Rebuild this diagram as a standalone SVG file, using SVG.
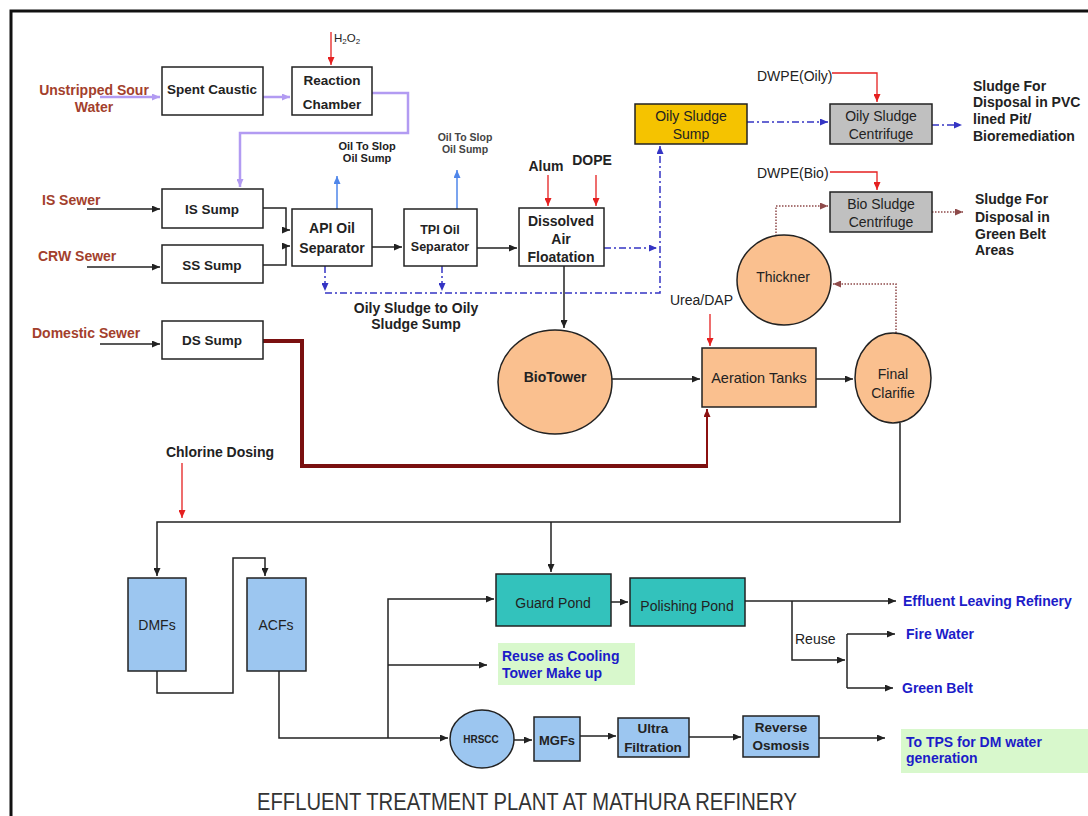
<svg xmlns="http://www.w3.org/2000/svg" width="1088" height="816" viewBox="0 0 1088 816">
  <defs>
    <style>
      .box { stroke: #222; stroke-width: 1.5; }
      .plain { fill: #fff; }
      .peach { fill: #FAC08F; }
      .gold { fill: #F5C300; }
      .grey { fill: #C0C0C0; }
      .sky { fill: #9CC6F0; }
      .teal { fill: #33C2BC; }
      .mint { fill: #D8F8CC; stroke: none; }
      text { font-family: "Liberation Sans", Arial, sans-serif; fill: #222; dominant-baseline: central; font-size: 14px; }
      .c { text-anchor: middle; }
      .b { font-weight: bold; }
      .s8 { font-size: 8px; }
      .s10 { font-size: 10px; }
      .s105 { font-size: 10.5px; }
      .s11 { font-size: 11px; }
      .s115 { font-size: 11.5px; }
      .s125 { font-size: 12.5px; }
      .s13 { font-size: 13px; }
      .s135 { font-size: 13.5px; }
      .s145 { font-size: 14.5px; }
      .title { font-size: 23px; fill: #333; }
      .grey-t { fill: #444; }
      .src { fill: #A3402C; font-weight: bold; }
      .out { fill: #1C1CC8; font-weight: bold; }
      .k { stroke: #222; stroke-width: 1.5; fill: none; }
      .r { stroke: #E52020; stroke-width: 1.3; fill: none; }
      .lav { stroke: #B29BF2; stroke-width: 2.5; fill: none; }
      .sb { stroke: #4F86EA; stroke-width: 1.5; fill: none; }
      .dd { stroke: #3434C4; stroke-width: 1.5; fill: none; stroke-dasharray: 7 3 2 3; }
      .dot { stroke: #8E4A4A; stroke-width: 1.5; fill: none; stroke-dasharray: 1.5 1.5; }
      .mar { stroke: #7A1010; stroke-width: 4; fill: none; }
      .mar2 { stroke: #8B1010; stroke-width: 2; fill: none; }
    </style>
    <marker id="ak" markerUnits="userSpaceOnUse" markerWidth="8" markerHeight="7" refX="8" refY="3.5" orient="auto"><path d="M0,0 L8,3.5 L0,7 z" fill="#222"/></marker>
    <marker id="ar" markerUnits="userSpaceOnUse" markerWidth="8" markerHeight="7" refX="8" refY="3.5" orient="auto"><path d="M0,0 L8,3.5 L0,7 z" fill="#E52020"/></marker>
    <marker id="al" markerUnits="userSpaceOnUse" markerWidth="8" markerHeight="7" refX="8" refY="3.5" orient="auto"><path d="M0,0 L8,3.5 L0,7 z" fill="#B29BF2"/></marker>
    <marker id="ab" markerUnits="userSpaceOnUse" markerWidth="8" markerHeight="7" refX="8" refY="3.5" orient="auto"><path d="M0,0 L8,3.5 L0,7 z" fill="#4F86EA"/></marker>
    <marker id="ad" markerUnits="userSpaceOnUse" markerWidth="8" markerHeight="7" refX="8" refY="3.5" orient="auto"><path d="M0,0 L8,3.5 L0,7 z" fill="#3434C4"/></marker>
    <marker id="am" markerUnits="userSpaceOnUse" markerWidth="8" markerHeight="7" refX="8" refY="3.5" orient="auto"><path d="M0,0 L8,3.5 L0,7 z" fill="#8E4A4A"/></marker>
    <marker id="ax" markerUnits="userSpaceOnUse" markerWidth="8" markerHeight="7" refX="8" refY="3.5" orient="auto"><path d="M0,0 L8,3.5 L0,7 z" fill="#8B1010"/></marker>
  </defs>

  <rect width="1088" height="816" fill="#fff"/>
  <!-- outer frame (runs off the right and bottom edges) -->
  <path d="M11,830 V11 H1100" fill="none" stroke="#111" stroke-width="3"/>

  <!-- green output panels -->
  <rect class="mint" x="498" y="643" width="137" height="42"/>
  <rect class="mint" x="901" y="729" width="190" height="44"/>

  <g id="connectors">
    <!-- spent caustic line -->
    <path class="lav" d="M100,97 H160" marker-end="url(#al)"/>
    <path class="lav" d="M263,97 H290" marker-end="url(#al)"/>
    <path class="lav" d="M372,93 H408 V133 H240 V187" marker-end="url(#al)"/>
    <path class="r" d="M331,32 V65" marker-end="url(#ar)"/>
    <!-- sewers -->
    <path class="k" d="M87,209 H160" marker-end="url(#ak)"/>
    <path class="k" d="M87,267 H160" marker-end="url(#ak)"/>
    <path class="k" d="M263,208 H286 V230 H290" marker-end="url(#ak)"/>
    <path class="k" d="M263,265 H286 V246 H290" marker-end="url(#ak)"/>
    <path class="k" d="M372,247 H402" marker-end="url(#ak)"/>
    <path class="k" d="M477,248 H517" marker-end="url(#ak)"/>
    <!-- oil to slop -->
    <path class="sb" d="M337,209 V176" marker-end="url(#ab)"/>
    <path class="sb" d="M457,209 V170" marker-end="url(#ab)"/>
    <!-- chemicals -->
    <path class="r" d="M548,175 V206" marker-end="url(#ar)"/>
    <path class="r" d="M596,175 V206" marker-end="url(#ar)"/>
    <!-- oily sludge routing -->
    <path class="dd" d="M325,266 V291" marker-end="url(#ad)"/>
    <path class="dd" d="M442,266 V291" marker-end="url(#ad)"/>
    <path class="dd" d="M325,293 H660 V146" marker-end="url(#ad)"/>
    <path class="dd" d="M604,248 H657" marker-end="url(#ad)"/>
    <path class="dd" d="M747,122 H828" marker-end="url(#ad)"/>
    <path class="dd" d="M932,125 H962" marker-end="url(#ad)"/>
    <path class="r" d="M832,73 H877 V102" marker-end="url(#ar)"/>
    <path class="r" d="M830,172 H877 V190" marker-end="url(#ar)"/>
    <!-- bio sludge -->
    <path class="dot" d="M776,236 V206 H828" marker-end="url(#am)"/>
    <path class="dot" d="M932,212 H963" marker-end="url(#am)"/>
    <path class="dot" d="M896,333 V284 H833" marker-end="url(#am)"/>
    <!-- biological treatment -->
    <path class="k" d="M564,266 V328" marker-end="url(#ak)"/>
    <path class="k" d="M612,379 H700" marker-end="url(#ak)"/>
    <path class="k" d="M816,379 H853" marker-end="url(#ak)" stroke-width="1"/>
    <path class="r" d="M710,314 V346" marker-end="url(#ar)"/>
    <!-- domestic sewer -->
    <path class="k" d="M100,344 H160" marker-end="url(#ak)"/>
    <path class="mar" d="M263,341 H302 V466 H708"/>
    <path class="mar2" d="M707,466 V409" marker-end="url(#ax)"/>
    <!-- tertiary treatment -->
    <path class="k" d="M900,423 V522 H157 V576" marker-end="url(#ak)"/>
    <path class="k" d="M551,522 V572" marker-end="url(#ak)"/>
    <path class="r" d="M182,463 V518" marker-end="url(#ar)"/>
    <path class="k" d="M157,671 V693 H233 V558 H265 V576" marker-end="url(#ak)"/>
    <path class="k" d="M279,671 V738 H448" marker-end="url(#ak)"/>
    <path class="k" d="M388,738 V599 H494" marker-end="url(#ak)"/>
    <path class="k" d="M388,665 H487" marker-end="url(#ak)"/>
    <path class="k" d="M514,740 H532" marker-end="url(#ak)"/>
    <path class="k" d="M580,736 H616" marker-end="url(#ak)"/>
    <path class="k" d="M689,737 H741" marker-end="url(#ak)"/>
    <path class="k" d="M819,738 H885" marker-end="url(#ak)"/>
    <path class="k" d="M611,602 H628" marker-end="url(#ak)"/>
    <path class="k" d="M745,601 H896" marker-end="url(#ak)"/>
    <path class="k" d="M792,601 V660 H845" marker-end="url(#ak)"/>
    <path class="k" d="M847,634 V688"/>
    <path class="k" d="M847,634 H895" marker-end="url(#ak)"/>
    <path class="k" d="M847,688 H893" marker-end="url(#ak)"/>
  </g>

  <g id="spent-caustic"><rect class="box plain" x="162" y="67" width="101" height="48"/><text class="c b s135" x="212" y="89">Spent Caustic</text></g>
  <g id="reaction-chamber"><rect class="box plain" x="292" y="67" width="80" height="48"/><text class="c b s135" x="332" y="80">Reaction</text><text class="c b s135" x="332" y="104">Chamber</text></g>
  <g id="is-sump"><rect class="box plain" x="162" y="189" width="101" height="39"/><text class="c b s135" x="212" y="209">IS Sump</text></g>
  <g id="ss-sump"><rect class="box plain" x="162" y="245" width="101" height="38"/><text class="c b s135" x="212" y="265">SS Sump</text></g>
  <g id="api"><rect class="box plain" x="292" y="209" width="80" height="57"/><text class="c b" x="332" y="228">API Oil</text><text class="c b" x="332" y="248">Separator</text></g>
  <g id="tpi"><rect class="box plain" x="404" y="209" width="73" height="57"/><text class="c b s125" x="440" y="230">TPI Oil</text><text class="c b s125" x="440" y="247">Separator</text></g>
  <g id="daf"><rect class="box plain" x="519" y="208" width="85" height="58"/><text class="c b" x="561" y="221">Dissolved</text><text class="c b" x="561" y="239">Air</text><text class="c b" x="561" y="257">Floatation</text></g>
  <g id="oily-sludge-sump"><rect class="box gold" x="635" y="104" width="112" height="40"/><text class="c" x="691" y="116">Oily Sludge</text><text class="c" x="691" y="134">Sump</text></g>
  <g id="oily-centrifuge"><rect class="box grey" x="830" y="104" width="102" height="40"/><text class="c" x="881" y="116">Oily Sludge</text><text class="c" x="881" y="134">Centrifuge</text></g>
  <g id="bio-centrifuge"><rect class="box grey" x="830" y="192" width="102" height="40"/><text class="c" x="881" y="204">Bio Sludge</text><text class="c" x="881" y="222">Centrifuge</text></g>
  <g id="thickner"><ellipse class="box peach" cx="784" cy="280" rx="47" ry="45"/><text class="c" x="783" y="277">Thickner</text></g>
  <g id="ds-sump"><rect class="box plain" x="162" y="321" width="101" height="38"/><text class="c b s135" x="212" y="340">DS Sump</text></g>
  <g id="biotower"><ellipse class="box peach" cx="555" cy="382" rx="57" ry="52"/><text class="c b" x="555" y="377">BioTower</text></g>
  <g id="aeration"><rect class="box peach" x="702" y="348" width="114" height="59"/><text class="c s145" x="759" y="378">Aeration Tanks</text></g>
  <g id="final-clarifier"><ellipse class="box peach" cx="893" cy="378" rx="38" ry="45"/><text class="c" x="893" y="374">Final</text><text class="c" x="893" y="393">Clarifie</text></g>
  <g id="dmfs"><rect class="box sky" x="128" y="578" width="58" height="93"/><text class="c" x="157" y="625">DMFs</text></g>
  <g id="acfs"><rect class="box sky" x="247" y="578" width="59" height="93"/><text class="c" x="276" y="625">ACFs</text></g>
  <g id="guard-pond"><rect class="box teal" x="496" y="574" width="115" height="52"/><text class="c" x="553" y="603">Guard Pond</text></g>
  <g id="polishing-pond"><rect class="box teal" x="630" y="578" width="115" height="48"/><text class="c" x="687" y="606">Polishing Pond</text></g>
  <g id="hrscc"><ellipse class="box sky" cx="482" cy="739" rx="32" ry="29"/><text class="c b s10" x="481" y="739">HRSCC</text></g>
  <g id="mgfs"><rect class="box sky" x="534" y="717" width="46" height="44"/><text class="c b s13" x="557" y="740">MGFs</text></g>
  <g id="ultra-filtration"><rect class="box sky" x="618" y="718" width="71" height="39"/><text class="c b s135" x="653" y="728">Ultra</text><text class="c b s135" x="653" y="747">Filtration</text></g>
  <g id="reverse-osmosis"><rect class="box sky" x="743" y="716" width="76" height="41"/><text class="c b s135" x="781" y="727">Reverse</text><text class="c b s135" x="781" y="745">Osmosis</text></g>

  <!-- inlet and dosing labels -->
  <text class="c src" x="94" y="90">Unstripped Sour</text>
  <text class="c src" x="94" y="107">Water</text>
  <text class="src" x="42" y="200">IS Sewer</text>
  <text class="src" x="38" y="256">CRW Sewer</text>
  <text class="src" x="32" y="333">Domestic Sewer</text>
  <text class="s115" x="334" y="38">H<tspan class="s8" dy="3">2</tspan><tspan dy="-3">O</tspan><tspan class="s8" dy="3">2</tspan></text>
  <text class="c b s11" x="367" y="146">Oil To Slop</text>
  <text class="c b s11" x="367" y="158">Oil Sump</text>
  <text class="c b s105 grey-t" x="465" y="137">Oil To Slop</text>
  <text class="c b s105 grey-t" x="465" y="149">Oil Sump</text>
  <text class="c b" x="546" y="166">Alum</text>
  <text class="c b" x="592" y="160">DOPE</text>
  <text x="757" y="76">DWPE(Oily)</text>
  <text x="757" y="173">DWPE(Bio)</text>
  <text class="b" x="973" y="86">Sludge For</text>
  <text class="b" x="973" y="102">Disposal in PVC</text>
  <text class="b" x="973" y="119">lined Pit/</text>
  <text class="b" x="973" y="136">Bioremediation</text>
  <text class="b" x="975" y="199">Sludge For</text>
  <text class="b" x="975" y="217">Disposal in</text>
  <text class="b" x="975" y="234">Green Belt</text>
  <text class="b" x="975" y="250">Areas</text>
  <text class="c b" x="416" y="308">Oily Sludge to Oily</text>
  <text class="c b" x="416" y="324">Sludge Sump</text>
  <text x="670" y="300">Urea/DAP</text>
  <text class="c b" x="220" y="452">Chlorine Dosing</text>

  <!-- outlets -->
  <text class="out" x="903" y="601">Effluent Leaving Refinery</text>
  <text x="795" y="639">Reuse</text>
  <text class="out" x="906" y="634">Fire Water</text>
  <text class="out" x="902" y="688">Green Belt</text>
  <text class="out" x="502" y="656">Reuse as Cooling</text>
  <text class="out" x="502" y="673">Tower Make up</text>
  <text class="out" x="906" y="742">To TPS for DM water</text>
  <text class="out" x="906" y="758">generation</text>

  <text class="c title" x="527" y="802" textLength="540" lengthAdjust="spacingAndGlyphs">EFFLUENT TREATMENT PLANT AT MATHURA REFINERY</text>
</svg>
